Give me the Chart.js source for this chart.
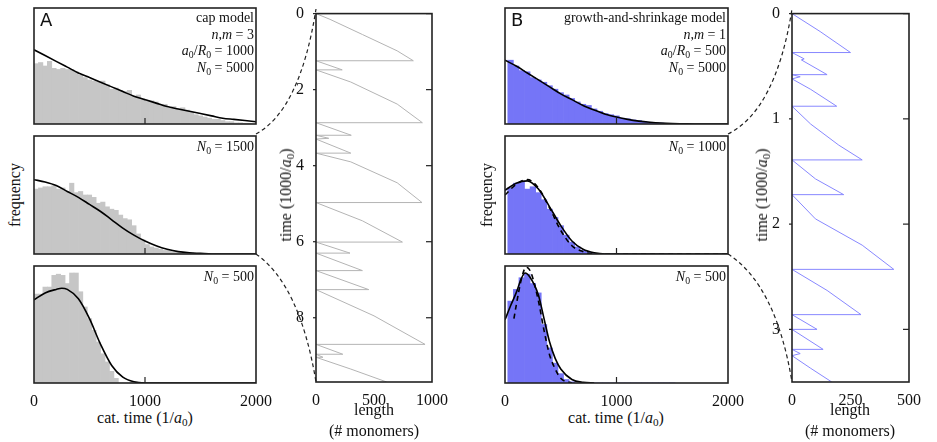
<!DOCTYPE html>
<html><head><meta charset="utf-8">
<script src="https://cdn.jsdelivr.net/npm/chart.js@4"></script>
<style>
body{margin:0;width:937px;height:442px;background:#fff;position:relative;overflow:hidden;font-family:"Liberation Serif",serif;color:#111}
canvas{position:absolute}
.t{position:absolute;font-size:14px;white-space:nowrap;line-height:1}
.r{text-align:right}
sub{font-size:70%;vertical-align:-3px;line-height:0}
.rot{transform:translate(-50%,-50%) rotate(-90deg);transform-origin:center}
.lab{font-family:"DejaVu Sans",sans-serif;font-size:18px;position:absolute}
</style></head><body>
<canvas id="ov" width="937" height="442" style="left:0;top:0;z-index:5;pointer-events:none"></canvas>
<script>
// ---- data ----
const binsA = [20,60,100,140,180,220,260,300,340,380,420,460,500,540,580,620,660,700,740,780,820,860,900,940,980,1020,1060,1100,1140,1180,1220,1260,1300,1340,1380,1420,1460,1500,1540,1580,1620,1660,1700,1740,1780,1820,1860,1900,1940,1980];
const histA1 = [0.52,0.53,0.50,0.54,0.48,0.47,0.48,0.47,0.47,0.45,0.42,0.40,0.38,0.37,0.36,0.37,0.34,0.30,0.31,0.29,0.28,0.29,0.24,0.25,0.22,0.20,0.20,0.19,0.17,0.17,0.14,0.15,0.13,0.14,0.12,0.10,0.08,0.07,0.06,0.05,0.04,0.04,0.03,0.02,0.02,0.01,0.01,0.005,0.005,0];
const histA2 = [0.55,0.56,0.57,0.57,0.58,0.55,0.56,0.53,0.60,0.52,0.53,0.50,0.50,0.48,0.43,0.44,0.40,0.38,0.37,0.33,0.30,0.29,0.24,0.17,0.12,0.08,0.06,0.05,0.04,0.03,0.03,0.02,0.02,0.01,0.01,0.01,0.005,0,0,0,0,0,0,0,0,0,0,0,0,0];
const histA3 = [0.76,0.76,0.82,0.82,0.92,0.93,0.92,0.85,0.94,0.94,0.78,0.65,0.55,0.45,0.35,0.25,0.18,0.10,0.04,0,0,0,0,0,0,0,0,0,0,0,0,0,0,0,0,0,0,0,0,0,0,0,0,0,0,0,0,0,0,0];
const binsB = [50,100,150,200,250,300,350,400,450,500,550,600,650,700,750,800,850,900,950,1000,1050,1100,1150,1200,1250,1300,1350,1400,1450,1500];
const histB1 = [0.55,0.50,0.46,0.45,0.40,0.38,0.36,0.33,0.30,0.27,0.25,0.22,0.19,0.17,0.16,0.13,0.11,0.09,0.08,0.07,0.05,0.045,0.035,0.03,0.02,0.015,0.01,0.008,0.005,0.003];
const histB2 = [0.56,0.60,0.61,0.55,0.57,0.52,0.46,0.38,0.31,0.24,0.16,0.10,0.06,0.03,0.015,0.005,0,0,0,0,0,0,0,0,0,0,0,0,0,0];
const histB3 = [0.70,0.80,0.90,0.93,0.85,0.77,0.50,0.30,0.17,0.08,0.03,0.01,0,0,0,0,0,0,0,0,0,0,0,0,0,0,0,0,0,0];
const curveX = [0,100,200,300,400,500,600,700,800,900,1000,1100,1200,1300,1400,1500,1600,1700,1800,1900,2000];
const fitA1 = [0.64,0.59,0.54,0.49,0.44,0.40,0.36,0.32,0.28,0.24,0.21,0.18,0.15,0.13,0.11,0.09,0.07,0.05,0.04,0.03,0.02];
const fitA2 = [0.63,0.61,0.58,0.53,0.48,0.42,0.36,0.29,0.22,0.16,0.11,0.07,0.04,0.02,0.01,0.005,0,0,0,0,0];
const fitA3X = [0,100,200,250,300,400,500,600,700,800,900,1000,1500,2000];
const fitA3 = [0.71,0.77,0.80,0.81,0.80,0.72,0.55,0.33,0.15,0.05,0.01,0,0,0];
const fitB1 = [0.55,0.50,0.44,0.38,0.32,0.26,0.21,0.16,0.12,0.085,0.06,0.04,0.025,0.015,0.008,0.004,0.002,0,0,0,0];
const fitB2 = [0.54,0.60,0.62,0.55,0.40,0.24,0.11,0.04,0.01,0,0,0,0,0,0,0,0,0,0,0,0];
const dashB2 = [0.50,0.59,0.63,0.56,0.39,0.20,0.07,0.02,0,0,0,0,0,0,0,0,0,0,0,0,0];
const fitB3X = [0,50,100,150,180,220,300,350,400,450,500,600,700,800];
const fitB3 = [0.54,0.66,0.77,0.90,0.94,0.91,0.75,0.55,0.35,0.21,0.12,0.03,0.005,0];
const dashB3X = [80,100,150,190,230,300,350,400,450,500,600];
const dashB3 = [0.55,0.66,0.90,0.99,0.95,0.70,0.45,0.24,0.12,0.04,0];
// length trajectories (length, time)
const trajA_len = [0,120,400,700,839,0,226,0,300,700,917,0,304,0,110,0,300,0,300,700,914,0,400,745,0,293,0,400,0,455,0,500,940,0,231,0,60,0,300,610];
const trajA_t  = [0,0.15,0.55,0.98,1.24,1.24,1.48,1.48,1.80,2.38,2.87,2.87,3.20,3.20,3.28,3.30,3.67,3.67,3.90,4.45,4.97,4.97,5.45,6.01,6.01,6.30,6.30,6.76,6.76,7.26,7.26,7.95,8.70,8.70,8.96,8.96,9.04,9.04,9.35,9.69];
const trajB_len = [0,120,250,0,52,40,150,0,35,0,80,191,0,80,200,300,0,100,221,0,100,300,435,0,150,295,0,107,0,133,0,35,0,80,170];
const trajB_t  = [0,0.17,0.37,0.37,0.43,0.44,0.58,0.58,0.60,0.62,0.72,0.88,0.88,1.05,1.25,1.39,1.39,1.57,1.72,1.72,1.95,2.20,2.43,2.43,2.63,2.86,2.86,3.00,3.00,3.19,3.19,3.23,3.25,3.37,3.50];
const ticksHist = [0,1000,2000];

const GREY='#c6c6c6', BLUE='#7575f7';
const F = {family:'"Liberation Serif", serif', size:16};

const frame = {id:'frame', afterDraw(c, a, o){
  const {ctx, chartArea:ca} = c; ctx.save(); ctx.strokeStyle='#222'; ctx.lineWidth=1.6;
  ctx.strokeRect(ca.left, ca.top, ca.right-ca.left, ca.bottom-ca.top);
  ctx.lineWidth=1.2;
  (o.xt||[]).forEach(v=>{const x=c.scales.x.getPixelForValue(v); ctx.beginPath(); ctx.moveTo(x,ca.bottom); ctx.lineTo(x,ca.bottom-6); ctx.stroke();});
  (o.yt||[]).forEach(v=>{const y=c.scales.y.getPixelForValue(v); ctx.beginPath(); ctx.moveTo(ca.right,y); ctx.lineTo(ca.right-6,y); ctx.stroke();
    ctx.beginPath(); ctx.moveTo(ca.left,y); ctx.lineTo(ca.left-3,y); ctx.stroke();});
  ctx.restore();}};
Chart.register(frame);

function mk(left, top, w, h, pad, axH){
  const c=document.createElement('canvas');
  const W=w+pad.left+pad.right, H=h+pad.top+pad.bottom+axH;
  c.width=W; c.height=H; c.style.width=W+'px'; c.style.height=H+'px';
  c.style.left=(left-pad.left)+'px'; c.style.top=(top-pad.top)+'px';
  document.body.appendChild(c); return c;
}
const plain = v=>String(v);
function hist(left, top, w, h, bins, vals, fits, color, showX){
  const pad={left:10,right:20,top:2,bottom:2}, axH=showX?24:0;
  const c=mk(left,top,w,h,pad,axH);
  const ds=[];
  fits.forEach(f=>ds.push({type:'line', data:f.x.map((x,i)=>({x, y:f.y[i]})), borderColor:'#000', borderWidth:1.6, borderDash:f.dash?[5,4]:[], pointRadius:0, cubicInterpolationMode:'monotone'}));
  ds.push({type:'bar', data:bins.map((x,i)=>({x, y:vals[i]})), backgroundColor:color, barPercentage:1, categoryPercentage:1, borderWidth:0});
  new Chart(c,{data:{datasets:ds},options:{responsive:false, animation:false, devicePixelRatio:1,
    layout:{padding:pad}, plugins:{legend:{display:false}, tooltip:{enabled:false}, frame:{xt:[1000]}},
    scales:{x:{type:'linear', min:0, max:2000, offset:false, display:showX, grid:{display:false, offset:false}, border:{display:false},
      afterFit:s=>{s.height=axH}, afterBuildTicks:s=>{s.ticks=ticksHist.map(v=>({value:v}))}, ticks:{font:F,color:'#111',padding:1,maxRotation:0,callback:plain}},
      y:{min:0, max:1.0, display:false}}}});
}
function traj(left, top, w, h, lens, ts, xmax, xt, ymax, yt, color, yw){
  const pad={left:yw,right:16,top:8,bottom:0}, axH=24;
  const c=mk(left,top,w,h,pad,axH);
  const lp={left:0,right:16,top:8,bottom:0};
  new Chart(c,{type:'line',data:{datasets:[{data:lens.map((x,i)=>({x,y:ts[i]})), borderColor:color, borderWidth:1, pointRadius:0, tension:0}]},
    options:{responsive:false, animation:false, devicePixelRatio:1, layout:{padding:lp},
      plugins:{legend:{display:false}, tooltip:{enabled:false}, frame:{yt:yt}},
      scales:{x:{type:'linear', min:0, max:xmax, grid:{display:false}, border:{display:false}, afterFit:s=>{s.height=axH},
        afterBuildTicks:s=>{s.ticks=xt.map(v=>({value:v}))}, ticks:{font:F,color:'#111',padding:1,maxRotation:0,callback:plain}},
      y:{type:'linear', min:0, max:ymax, reverse:true, grid:{display:false}, border:{display:false}, afterFit:s=>{s.width=yw},
        afterBuildTicks:s=>{s.ticks=yt.map(v=>({value:v}))}, ticks:{font:F,color:'#111',padding:4,callback:plain}}}}});
}
const Y=[[8,116],[136,118],[266,117]];
hist(34,Y[0][0],222,Y[0][1],binsA,histA1,[{x:curveX,y:fitA1}],GREY,false);
hist(34,Y[1][0],222,Y[1][1],binsA,histA2,[{x:curveX,y:fitA2}],GREY,false);
hist(34,Y[2][0],222,Y[2][1],binsA,histA3,[{x:fitA3X,y:fitA3}],GREY,true);
hist(505,Y[0][0],223,Y[0][1],binsB,histB1,[{x:curveX,y:fitB1}],BLUE,false);
hist(505,Y[1][0],223,Y[1][1],binsB,histB2,[{x:curveX,y:fitB2},{x:curveX,y:dashB2,dash:true}],BLUE,false);
hist(505,Y[2][0],223,Y[2][1],binsB,histB3,[{x:fitB3X,y:fitB3},{x:dashB3X,y:dashB3,dash:true}],BLUE,true);
traj(316,8,117,374,trajA_len,trajA_t,1000,[0,500,1000],9.69,[0,2,4,6,8],'#b4b4b4',22);
traj(792,8,117,374,trajB_len,trajB_t,500,[0,250,500],3.5,[0,1,2,3],'#8888ff',22);

// connectors
const o=document.getElementById('ov').getContext('2d');
o.strokeStyle='#222'; o.lineWidth=1.2; o.setLineDash([4,3]);
[[256,134,316,9,300,110],[256,254,316,382,300,285],[728,134,792,9,776,110],[728,254,792,382,776,285]].forEach(p=>{
  o.beginPath(); o.moveTo(p[0],p[1]); o.quadraticCurveTo(p[4],p[5],p[2],p[3]); o.stroke();});
</script>
<div class="lab" style="left:40px;top:9px">A</div>
<div class="lab" style="left:511px;top:9px">B</div>
<div class="t r" style="right:683px;top:11px;width:200px">cap model</div>
<div class="t r" style="right:683px;top:28px;width:200px"><i>n</i>,<i>m</i> = 3</div>
<div class="t r" style="right:683px;top:44px;width:200px"><i>a</i><sub>0</sub>/<i>R</i><sub>0</sub> = 1000</div>
<div class="t r" style="right:683px;top:61px;width:200px"><i>N</i><sub>0</sub> = 5000</div>
<div class="t r" style="right:683px;top:140px;width:200px"><i>N</i><sub>0</sub> = 1500</div>
<div class="t r" style="right:683px;top:270px;width:200px"><i>N</i><sub>0</sub> = 500</div>
<div class="t r" style="right:211px;top:11px;width:220px">growth-and-shrinkage model</div>
<div class="t r" style="right:211px;top:28px;width:200px"><i>n</i>,<i>m</i> = 1</div>
<div class="t r" style="right:211px;top:44px;width:200px"><i>a</i><sub>0</sub>/<i>R</i><sub>0</sub> = 500</div>
<div class="t r" style="right:211px;top:61px;width:200px"><i>N</i><sub>0</sub> = 5000</div>
<div class="t r" style="right:211px;top:140px;width:200px"><i>N</i><sub>0</sub> = 1000</div>
<div class="t r" style="right:211px;top:270px;width:200px"><i>N</i><sub>0</sub> = 500</div>
<div class="t" style="left:145px;top:418px;font-size:16px;transform:translate(-50%,-50%)">cat. time (1/<i>a</i><sub>0</sub>)</div>
<div class="t" style="left:616px;top:418px;font-size:16px;transform:translate(-50%,-50%)">cat. time (1/<i>a</i><sub>0</sub>)</div>
<div class="t rot" style="left:15px;top:195px;font-size:16px">frequency</div>
<div class="t rot" style="left:487px;top:195px;font-size:16px">frequency</div>
<div class="t rot" style="left:286px;top:195px;font-size:16px">time (1000/<i>a</i><sub>0</sub>)</div>
<div class="t rot" style="left:762px;top:195px;font-size:16px">time (1000/<i>a</i><sub>0</sub>)</div>
<div class="t" style="left:374px;top:410px;font-size:16px;transform:translate(-50%,-50%)">length</div>
<div class="t" style="left:374px;top:431px;font-size:16px;transform:translate(-50%,-50%)">(# monomers)</div>
<div class="t" style="left:850px;top:410px;font-size:16px;transform:translate(-50%,-50%)">length</div>
<div class="t" style="left:850px;top:431px;font-size:16px;transform:translate(-50%,-50%)">(# monomers)</div>
</body></html>
